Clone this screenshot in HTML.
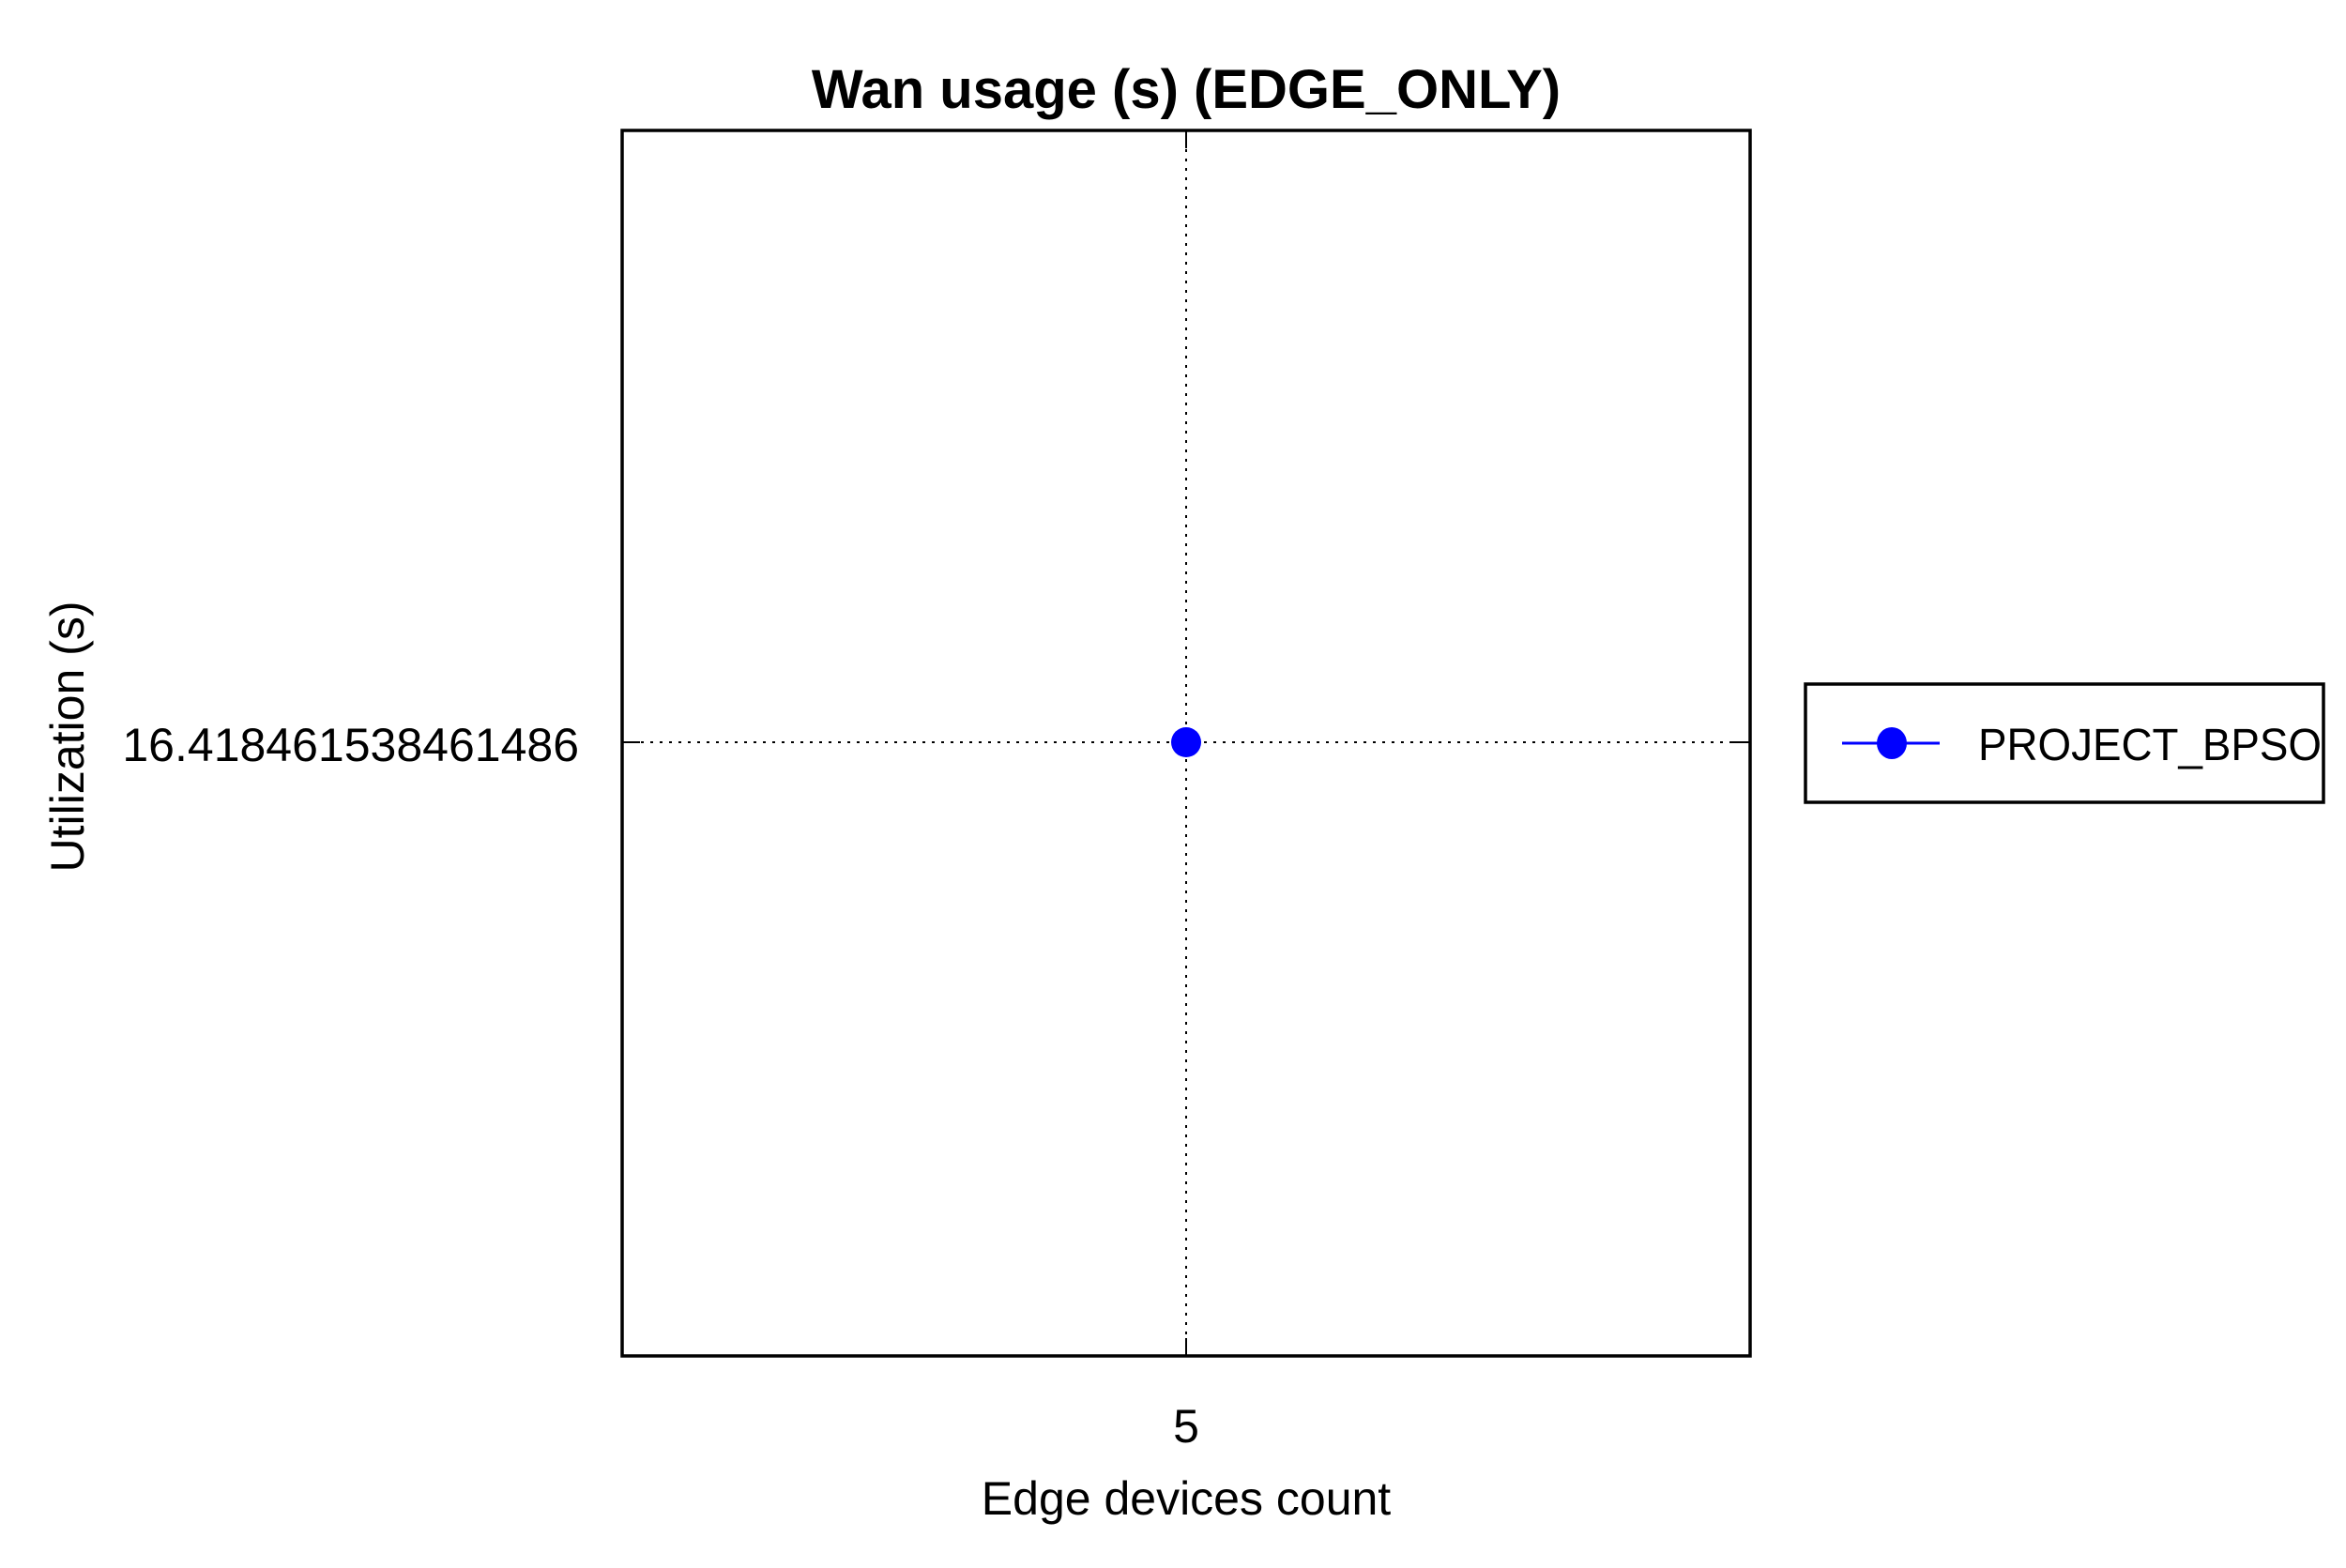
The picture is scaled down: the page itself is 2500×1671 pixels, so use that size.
<!DOCTYPE html>
<html><head><style>
html,body{margin:0;padding:0;background:#fff;}
svg text{font-family:"Liberation Sans",Arial,sans-serif;fill:#000;}
</style></head><body>
<svg width="2500" height="1666" viewBox="0 0 2500 1666" xmlns="http://www.w3.org/2000/svg">
<rect width="2500" height="1666" fill="#fff"/>
<text x="1264" y="115" font-size="58" font-weight="bold" text-anchor="middle">Wan usage (s) (EDGE_ONLY)</text>
<line x1="1264" y1="139" x2="1264" y2="1445" stroke="#000" stroke-width="2" stroke-dasharray="3,7"/>
<line x1="663" y1="791" x2="1865" y2="791" stroke="#000" stroke-width="2" stroke-dasharray="3,7"/>
<line x1="1264" y1="139" x2="1264" y2="158" stroke="#000" stroke-width="2"/>
<line x1="1264" y1="1426" x2="1264" y2="1445" stroke="#000" stroke-width="2"/>
<line x1="663" y1="791" x2="682" y2="791" stroke="#000" stroke-width="2"/>
<line x1="1846" y1="791" x2="1865" y2="791" stroke="#000" stroke-width="2"/>
<rect x="663" y="139" width="1202" height="1306" fill="none" stroke="#000" stroke-width="3.5"/>
<ellipse cx="1264" cy="791" rx="16" ry="16" fill="#00f"/>
<text x="617" y="811" font-size="50" text-anchor="end">16.418461538461486</text>
<text x="1264" y="1537" font-size="50" text-anchor="middle">5</text>
<text x="1264" y="1614" font-size="50" text-anchor="middle">Edge devices count</text>
<text transform="translate(89,785) rotate(-90)" font-size="50" text-anchor="middle">Utilization (s)</text>
<rect x="1924" y="729" width="552" height="126" fill="#fff" stroke="#000" stroke-width="3.5"/>
<line x1="1963" y1="792" x2="2067" y2="792" stroke="#00f" stroke-width="3"/>
<ellipse cx="2016" cy="792" rx="16" ry="17" fill="#00f"/>
<text x="2108" y="810" font-size="48" textLength="366" lengthAdjust="spacingAndGlyphs">PROJECT_BPSO</text>
</svg>
</body></html>
